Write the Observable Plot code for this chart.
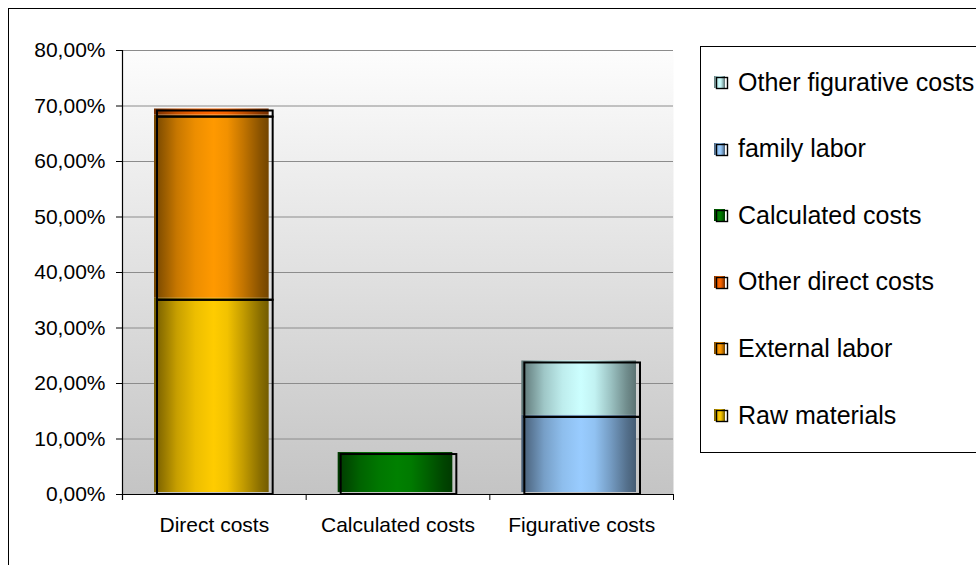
<!DOCTYPE html>
<html>
<head>
<meta charset="utf-8">
<script src="https://cdn.jsdelivr.net/npm/d3@7"></script>
<script src="https://cdn.jsdelivr.net/npm/@observablehq/plot@0.6"></script>
<style>
  body { margin: 0; background: #fff; font-family: "Liberation Sans", Arial, sans-serif; }
  #wrap { position: relative; width: 976px; height: 565px; overflow: hidden; background: #fff; }
  #wrap > svg { position: absolute; left: 0; top: 0; }
  #frame { position: absolute; left: 8px; top: 8px; width: 1100px; height: 700px; border: 1px solid #000; pointer-events: none; }
  #legend { position: absolute; left: 700px; top: 46px; width: 330px; height: 405px; border: 1px solid #000; background: #fff; }
  #legend .item { position: absolute; left: 13px; height: 30px; display: flex; align-items: center;
                  font-size: 25px; color: #000; white-space: nowrap; }
  #legend .item svg { margin-right: 8px; flex: none; }
</style>
</head>
<body>
<div id="wrap"></div>
<script>
// Cost structure: share of total costs per group
const categories = ["Direct costs", "Calculated costs", "Figurative costs"];
const seriesNames = ["Raw materials", "External labor", "Other direct costs", "Calculated costs", "family labor", "Other figurative costs"];
const seriesCategory = ["Direct costs", "Direct costs", "Direct costs", "Calculated costs", "Figurative costs", "Figurative costs"];
const seriesValues = [0.350, 0.330, 0.011, 0.072, 0.139, 0.098];
const seriesColors = ["#ffcc00", "#ff9900", "#ff6600", "#008000", "#99ccff", "#ccffff"];
const yTicks = [0, 0.1, 0.2, 0.3, 0.4, 0.5, 0.6, 0.7, 0.8];

const rows = seriesNames.map((s, i) => ({series: s, category: seriesCategory[i], value: seriesValues[i]}));
const pct = d => (d * 100).toFixed(2).replace(".", ",") + "%";

const W = 976, H = 565, mL = 122, mR = 303, mT = 50, mB = 71;
const bw = (W - mL - mR) / categories.length; // band width (no padding)

const chart = Plot.plot({
  width: W,
  height: H,
  marginTop: mT,
  marginBottom: mB,
  marginLeft: mL,
  marginRight: mR,
  style: {background: "transparent", fontFamily: "'Liberation Sans', Arial, sans-serif", fontSize: "21px", color: "#000"},
  x: {domain: categories, padding: 0, round: false, label: null},
  y: {domain: [0, 0.8], label: null},
  color: {domain: seriesNames, range: seriesNames.map((_, i) => `url(#cyl-${i})`)},
  marks: [
    Plot.frame({fill: "url(#plot-bg)", stroke: null}),
    Plot.gridY(yTicks, {stroke: "#8c8c8c", strokeOpacity: 1, strokeWidth: 1}),
    // cylinder-shaded fills, slightly offset from their outlines
    Plot.barY(rows, Plot.stackY({x: "category", y: "value", fill: "series", insetLeft: 35, insetRight: 34, dx: -3, dy: -2})),
    Plot.barY(rows, Plot.stackY({x: "category", y: "value", fill: "none", stroke: "#000", strokeWidth: 2, insetLeft: 35, insetRight: 33})),
    // axis lines and category boundary ticks
    Plot.ruleY([0], {stroke: "#000", strokeWidth: 1}),
    Plot.ruleX([categories[0]], {dx: -bw / 2, insetBottom: -6, stroke: "#000", strokeWidth: 1.2}),
    Plot.ruleX(categories.slice(1), {dx: -bw / 2, y1: 0, y2: 0, insetBottom: -6, stroke: "#000"}),
    Plot.ruleX([categories[categories.length - 1]], {dx: bw / 2, y1: 0, y2: 0, insetBottom: -6, stroke: "#000"}),
    Plot.axisY({ticks: yTicks, tickFormat: pct, tickSize: 6, tickPadding: 11, fontSize: 21, stroke: "#000", fill: "#000"}),
    Plot.axisX({tickSize: 0, tickPadding: 23, fontSize: 21, fill: "#000"})
  ]
});

// gradients: plot background and cylinder shading for each series
const defs = d3.select(chart).insert("defs", ":first-child");
const bg = defs.append("linearGradient").attr("id", "plot-bg").attr("x1", 0).attr("y1", 0).attr("x2", 0).attr("y2", 1);
bg.append("stop").attr("offset", "0%").attr("stop-color", "#fdfdfd");
bg.append("stop").attr("offset", "100%").attr("stop-color", "#c4c4c4");

const shadeStops = [[0, 0.45], [0.08, 0.58], [0.2, 0.78], [0.36, 0.93], [0.52, 1], [0.64, 0.95], [0.78, 0.76], [0.92, 0.55], [1, 0.45]];
seriesColors.forEach((c, i) => {
  const base = d3.rgb(c);
  const g = defs.append("linearGradient").attr("id", `cyl-${i}`).attr("x1", 0).attr("y1", 0).attr("x2", 1).attr("y2", 0);
  for (const [o, f] of shadeStops) {
    g.append("stop").attr("offset", o).attr("stop-color", d3.rgb(base.r * f, base.g * f, base.b * f).formatHex());
  }
});

const wrap = document.getElementById("wrap");
wrap.appendChild(chart);

const frame = document.createElement("div");
frame.id = "frame";
wrap.appendChild(frame);

// legend, listed top to bottom in reverse series order
const legend = document.createElement("div");
legend.id = "legend";
const order = seriesNames.map((_, i) => i).reverse();
order.forEach((si, row) => {
  const item = document.createElement("div");
  item.className = "item";
  item.style.top = (20 + row * 66.6) + "px";
  item.innerHTML =
    `<svg width="16" height="16">` +
    `<rect x="0" y="2" width="11" height="12" fill="url(#cyl-${si})"></rect>` +
    `<rect x="2.5" y="3.5" width="11" height="11" fill="none" stroke="#000" stroke-width="1.4"></rect>` +
    `</svg><span>${seriesNames[si]}</span>`;
  legend.appendChild(item);
});
wrap.appendChild(legend);
</script>
</body>
</html>
